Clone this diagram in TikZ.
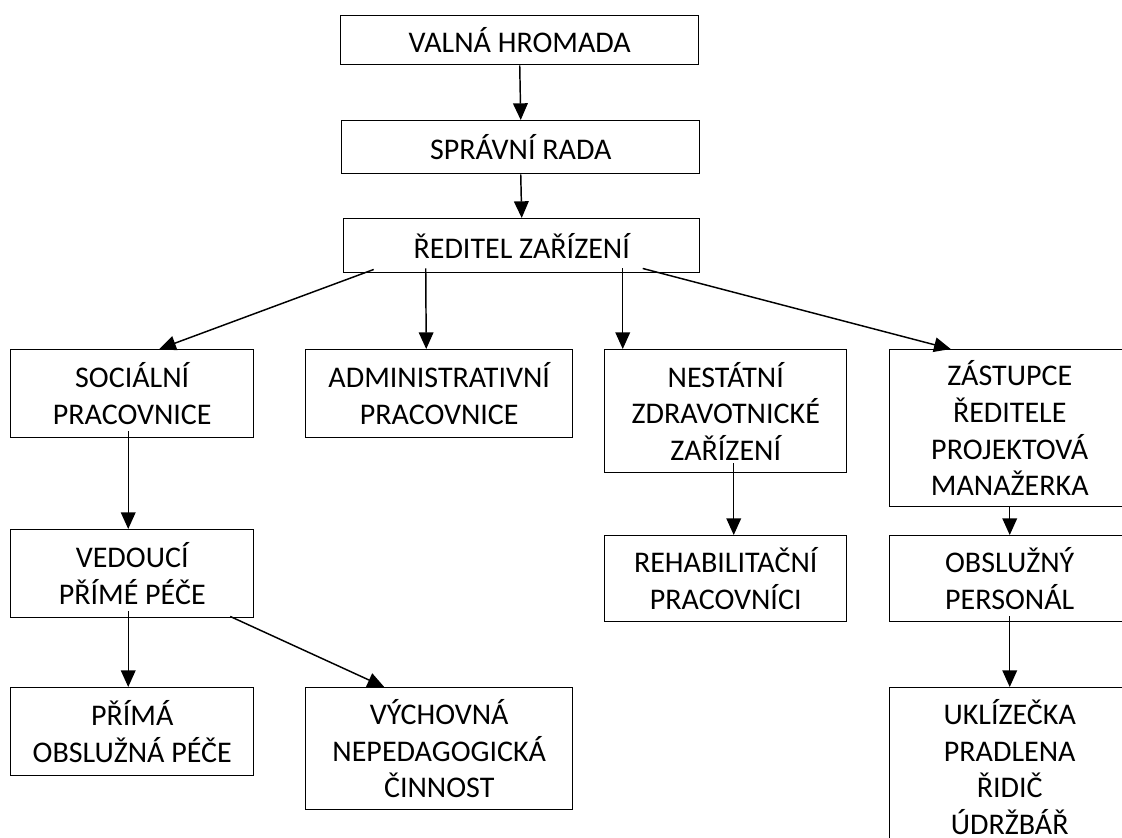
\documentclass[tikz,border=0pt]{standalone}
\usepackage{fontspec}
\setmainfont{Carlito}
\usetikzlibrary{arrows.meta,calc}

\begin{document}
\begin{tikzpicture}[x=0.75pt,y=-0.75pt,
  box/.style={draw=black,line width=1.1pt,anchor=north west,inner sep=0pt,align=center,
    font=\fontsize{22.5pt}{27.5pt}\selectfont},
  arr/.style={line width=1.1pt,-{Triangle[length=12.5pt,width=11pt]}}]
\useasboundingbox (0,0) rectangle (1122,838);
\clip (0,0) rectangle (1122,838);
\node[box,minimum width=268.5pt,minimum height=36.75pt] (hromada) at (340,15) {VALNÁ HROMADA};
\node[box,minimum width=268.5pt,minimum height=39.75pt] (rada) at (341,120) {SPRÁVNÍ RADA};
\node[box,minimum width=267pt,minimum height=40.5pt] (reditel) at (343,218) {ŘEDITEL ZAŘÍZENÍ};
\node[box,minimum width=182.25pt,minimum height=66pt] (socialni) at (10,349) {SOCIÁLNÍ\\PRACOVNICE};
\node[box,minimum width=200.25pt,minimum height=66pt] (admin) at (305,349) {ADMINISTRATIVNÍ\\PRACOVNICE};
\node[box,minimum width=181.5pt,minimum height=92.25pt] (nzz) at (604,349) {NESTÁTNÍ\\ZDRAVOTNICKÉ\\ZAŘÍZENÍ};
\node[box,minimum width=180pt,minimum height=117.75pt] (zastupce) at (889,349) {ZÁSTUPCE\\ŘEDITELE\\PROJEKTOVÁ\\MANAŽERKA};
\node[box,minimum width=182.25pt,minimum height=66pt] (vedouci) at (10,529) {VEDOUCÍ\\PŘÍMÉ PÉČE};
\node[box,minimum width=181.5pt,minimum height=64.5pt] (rehab) at (604,535) {REHABILITAČNÍ\\PRACOVNÍCI};
\node[box,minimum width=180pt,minimum height=64.5pt] (obsluha) at (889,535) {OBSLUŽNÝ\\PERSONÁL};
\node[box,minimum width=182.25pt,minimum height=66pt] (prima) at (10,687) {PŘÍMÁ\\OBSLUŽNÁ PÉČE};
\node[box,minimum width=200.25pt,minimum height=91.5pt] (vychovna) at (305,687) {VÝCHOVNÁ\\NEPEDAGOGICKÁ\\ČINNOST};
\node[box,minimum width=180pt,minimum height=119pt] (provoz) at (889,687) {UKLÍZEČKA\\PRADLENA\\ŘIDIČ\\ÚDRŽBÁŘ};
\draw[arr] (hromada.south) -- (rada.north);
\draw[arr] (rada.south) -- (reditel.north);
\draw[arr] ($(reditel.south)+(-148,-4)$) -- ($(socialni.north)+(27,0)$);
\draw[arr] ($(reditel.south)+(-96,-5)$) -- ($(admin.north)+(-13,0)$);
\draw[arr] ($(reditel.south)+(101,-5)$) -- ($(nzz.north)+(-103,0)$);
\draw[arr] ($(reditel.south)+(121,-5)$) -- ($(zastupce.north)+(-59,0)$);
\draw[arr] ($(socialni.south)+(-4,-7)$) -- ($(vedouci.north)+(-4,0)$);
\draw[arr] ($(nzz.south)+(8,-10)$) -- ($(rehab.north)+(8,0)$);
\draw[arr] (zastupce.south) -- (obsluha.north);
\draw[arr] ($(vedouci.south)+(-4,-7)$) -- ($(prima.north)+(-4,0)$);
\draw[arr] ($(vedouci.south)+(98,-2)$) -- ($(vychovna.north)+(-55,0)$);
\draw[arr] ($(obsluha.south)+(0,-6)$) -- (provoz.north);
\end{tikzpicture}
\end{document}
